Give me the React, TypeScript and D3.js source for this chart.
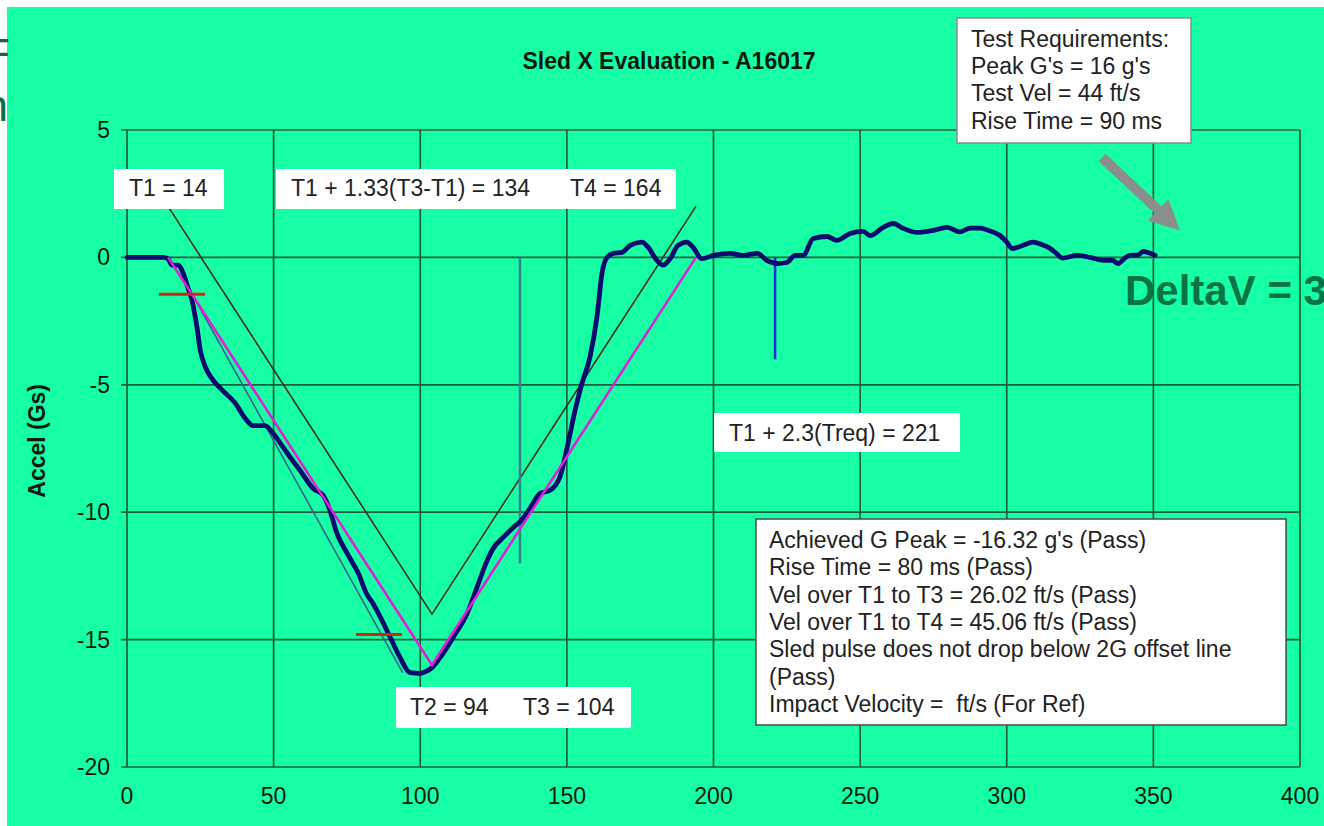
import React from "react";
import * as d3 from "d3";

const W = 1324;
const H = 826;

// axis ticks
const xTicks = [0, 50, 100, 150, 200, 250, 300, 350, 400];
const yTicks = [-20, -15, -10, -5, 0, 5];

// measured sled pulse: time (ms) and acceleration (G)
const timeMs = [
  0, 5, 10, 12.3, 14, 15.3, 17.4, 19.1, 20.8, 22.2,
  23.8, 25, 26.7, 28.9, 32.4, 36.8, 40.2, 43, 47, 49.8,
  53.2, 56, 59, 63.5, 66.9, 69.2, 71.5, 75, 78.9, 81.7,
  84, 86.3, 89.7, 93.1, 96.5, 99.9, 102, 104, 106.8, 111.3,
  116, 119.5, 122.8, 125, 128.2, 131.7, 134.7, 137.4, 140.9, 144.3,
  147.7, 150.4, 152.8, 155, 157.9, 160.3, 162, 163.7, 165.8, 168.8,
  171.6, 175.6, 177.7, 180.7, 182.8, 185.2, 187.9, 190.9, 193, 196,
  200, 205.6, 210, 215, 218.2, 221.7, 225, 227.8, 230.6, 234,
  238.7, 242, 246.6, 251, 253.4, 257.9, 261.3, 264.7, 269.4, 275,
  279.7, 284, 287.5, 291, 294, 297.7, 300, 301.8, 305, 309,
  312, 314.8, 317, 319, 324, 328.4, 333, 336, 338, 340,
  342, 345, 346.5, 348.5, 350.6,
];
const accelG = [
  0, 0, 0, 0, -0.05, -0.3, -0.3, -0.6, -1.2, -1.7,
  -2.7, -3.65, -4.3, -4.75, -5.2, -5.7, -6.3, -6.6, -6.6, -6.9,
  -7.45, -7.9, -8.36, -9.07, -9.34, -9.93, -10.8, -11.6, -12.4, -13.2,
  -13.6, -14.1, -14.9, -15.7, -16.3, -16.33, -16.25, -16.1, -15.7, -14.9,
  -13.97, -12.9, -11.9, -11.4, -11.0, -10.6, -10.3, -9.85, -9.26, -9.14,
  -8.6, -7.3, -6.0, -5.0, -3.9, -2.3, -0.6, 0, 0.16, 0.2,
  0.47, 0.6, 0.4, -0.12, -0.3, -0.05, 0.47, 0.6, 0.4, -0.05,
  0.08, 0.16, 0.08, 0.16, -0.12, -0.24, -0.2, 0.08, 0.08, 0.74,
  0.82, 0.67, 0.94, 1.02, 0.86, 1.18, 1.33, 1.14, 0.98, 1.06,
  1.18, 1.0, 1.15, 1.15, 1.05, 0.86, 0.6, 0.35, 0.45, 0.6,
  0.5, 0.35, 0.15, -0.03, 0.08, 0, -0.12, -0.12, -0.24, -0.05,
  0.08, 0.1, 0.24, 0.18, 0.08,
];

// ideal triangular pulse and 2G offset line
const pulseT = [14, 104, 194];
const pulseG = [0, -16, 0];
const offsetG = [2, -14, 2];

// rise line (10% -> peak)
const riseT = [22.5, 94];
const riseG = [-1.5, -16.3];

// red 10% / 90% markers
const markerT0 = [10.9, 78.1];
const markerT1 = [26.6, 93.8];
const markerG = [-1.45, -14.8];

// vertical markers
const vertT = [134, 221];
const vertG = [-12, -4];
const vertColor = ["#2f8090", "#1c2fd0"];

// gray arrow (data coords)
const arrowT = [332.5, 359.1];
const arrowG = [3.92, 1.06];

const FONT = "'Liberation Sans', Arial, Helvetica, sans-serif";

const resultLines = [
  "Achieved G Peak = -16.32 g's (Pass)",
  "Rise Time = 80 ms (Pass)",
  "Vel over T1 to T3 = 26.02 ft/s (Pass)",
  "Vel over T1 to T4 = 45.06 ft/s (Pass)",
  "Sled pulse does not drop below 2G offset line",
  "(Pass)",
  "Impact Velocity = \u00a0ft/s (For Ref)",
];
const reqLines = [
  "Test Requirements:",
  "Peak G's = 16 g's",
  "Test Vel = 44 ft/s",
  "Rise Time = 90 ms",
];

export default function App() {
  const x = d3.scaleLinear().domain([0, 400]).range([127, 1300]);
  const y = d3.scaleLinear().domain([-20, 5]).range([767, 130]);

  const pts: [number, number][] = timeMs.map((t, i) => [t, accelG[i]]);
  const line = d3
    .line<[number, number]>()
    .x((d) => x(d[0]))
    .y((d) => y(d[1]))
    .curve(d3.curveMonotoneX);
  const straight = d3
    .line<[number, number]>()
    .x((d) => x(d[0]))
    .y((d) => y(d[1]));

  const pulsePts: [number, number][] = pulseT.map((t, i) => [t, pulseG[i]]);
  const offsetPts: [number, number][] = pulseT.map((t, i) => [t, offsetG[i]]);
  const risePts: [number, number][] = riseT.map((t, i) => [t, riseG[i]]);

  // arrow polygon
  const ax0 = x(arrowT[0]);
  const ay0 = y(arrowG[0]);
  const ax1 = x(arrowT[1]);
  const ay1 = y(arrowG[1]);
  const len = Math.hypot(ax1 - ax0, ay1 - ay0);
  const ux = (ax1 - ax0) / len;
  const uy = (ay1 - ay0) / len;
  const nx = -uy;
  const ny = ux;
  const sw = 5;
  const hl = 30;
  const hw = 15;
  const bx = ax1 - ux * hl;
  const by = ay1 - uy * hl;
  const arrowPoly = [
    [ax0 + nx * sw, ay0 + ny * sw],
    [bx + nx * sw, by + ny * sw],
    [bx + nx * hw, by + ny * hw],
    [ax1, ay1],
    [bx - nx * hw, by - ny * hw],
    [bx - nx * sw, by - ny * sw],
    [ax0 - nx * sw, ay0 - ny * sw],
  ]
    .map((p) => p.join(","))
    .join(" ");

  const gridColor = "#1b5f41";
  const fs = 23;

  return (
    <svg
      width={W}
      height={H}
      style={{ position: "absolute", left: 0, top: 0, display: "block" }}
      fontFamily={FONT}
    >
      <rect x={0} y={0} width={W} height={H} fill="#ffffff" />
      <rect x={7} y={7} width={W - 7} height={H - 7} fill="#16ffa4" />
      {/* slide fragments on left edge */}
      <text x={10} y={68} fontSize={42} fill="#0d6b46" textAnchor="end">F</text>
      <text x={8} y={121} fontSize={44} fill="#0d6b46" textAnchor="end">n</text>

      {/* title */}
      <text x={669} y={69} fontSize={fs} fontWeight="bold" textAnchor="middle" fill="#0a1a12">
        Sled X Evaluation - A16017
      </text>

      {/* grid */}
      {yTicks.map((v) => (
        <line key={"gy" + v} x1={x(0) - 6} x2={x(400)} y1={y(v)} y2={y(v)} stroke={gridColor} strokeWidth={1.7} />
      ))}
      {xTicks.map((v) => (
        <line key={"gx" + v} x1={x(v)} x2={x(v)} y1={y(5)} y2={y(-20)} stroke={gridColor} strokeWidth={1.7} />
      ))}

      {/* tick labels */}
      {yTicks.map((v) => (
        <text key={"ly" + v} x={110} y={y(v) + 8} fontSize={fs} textAnchor="end" fill="#0d1a14">
          {v}
        </text>
      ))}
      {xTicks.map((v) => (
        <text key={"lx" + v} x={x(v)} y={804} fontSize={fs} textAnchor="middle" fill="#0d1a14">
          {v}
        </text>
      ))}
      <text
        transform={`translate(45,${y(-7.2)}) rotate(-90)`}
        fontSize={fs}
        fontWeight="bold"
        textAnchor="middle"
        fill="#0a1a12"
      >
        Accel (Gs)
      </text>

      {/* 2G offset line */}
      <path d={straight(offsetPts) || ""} fill="none" stroke="#3b3020" strokeWidth={1.6} />
      {/* rise line */}
      <path d={straight(risePts) || ""} fill="none" stroke="#35628a" strokeWidth={1.6} />

      {/* vertical markers */}
      {vertT.map((t, i) => (
        <line key={"v" + i} x1={x(t)} x2={x(t)} y1={y(0)} y2={y(vertG[i])} stroke={vertColor[i]} strokeWidth={2.5} />
      ))}

      {/* measured pulse */}
      <path
        d={line(pts) || ""}
        fill="none"
        stroke="#0b0a6e"
        strokeWidth={4.8}
        strokeLinejoin="round"
        strokeLinecap="round"
      />

      {/* ideal pulse */}
      <path d={straight(pulsePts) || ""} fill="none" stroke="#dd22d6" strokeWidth={2.6} />

      {/* red markers */}
      {markerG.map((g, i) => (
        <line key={"m" + i} x1={x(markerT0[i])} x2={x(markerT1[i])} y1={y(g)} y2={y(g)} stroke="#d42414" strokeWidth={3} />
      ))}

      {/* annotation boxes */}
      <rect x={114} y={169} width={110} height={40} fill="#ffffff" />
      <text x={129} y={196} fontSize={fs} fill="#222">T1 = 14</text>

      <rect x={276} y={169} width={400} height={40} fill="#ffffff" />
      <text x={291} y={196} fontSize={fs} fill="#222">T1 + 1.33(T3-T1) = 134</text>
      <text x={570} y={196} fontSize={fs} fill="#222">T4 = 164</text>

      <rect x={714} y={413} width={246} height={39} fill="#ffffff" />
      <text x={729} y={441} fontSize={fs} fill="#222">T1 + 2.3(Treq) = 221</text>

      <rect x={396} y={687} width={235} height={41} fill="#ffffff" />
      <text x={410} y={715} fontSize={fs} fill="#222">T2 = 94</text>
      <text x={523} y={715} fontSize={fs} fill="#222">T3 = 104</text>

      <rect x={756} y={519} width={530} height={206} fill="#ffffff" stroke="#4a4a4a" strokeWidth={1.5} />
      {resultLines.map((s, i) => (
        <text key={"r" + i} x={769} y={548 + i * 27.3} fontSize={fs} fill="#222">
          {s}
        </text>
      ))}

      <rect x={957} y={18} width={234} height={125} fill="#ffffff" stroke="#8c8c8c" strokeWidth={1.5} />
      {reqLines.map((s, i) => (
        <text key={"q" + i} x={971} y={47 + i * 27.2} fontSize={fs} fill="#222">
          {s}
        </text>
      ))}

      {/* gray arrow */}
      <polygon points={arrowPoly} fill="#8a8e8c" />

      {/* DeltaV */}
      <text x={1125} y={305} fontSize={42} fontWeight="bold" fill="#0a7346">
        DeltaV = 3
      </text>
    </svg>
  );
}
